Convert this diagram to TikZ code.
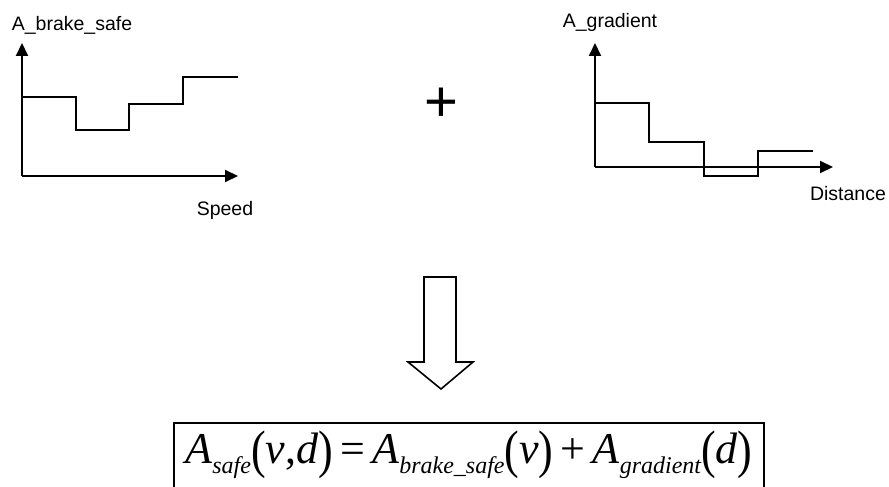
\documentclass[tikz,border=0pt]{standalone}
\usepackage{graphicx}
\usepackage{fontspec}
\setmainfont{Liberation Sans}
\newfontfamily\eqfont{Liberation Serif}
\usetikzlibrary{arrows.meta}
\tikzset{
  axisline/.style={line width=2pt,-{Triangle[length=13pt,width=12pt]}},
  stepline/.style={line width=2pt},
  axislabel/.style={anchor=base,inner sep=0pt,font=\fontsize{19.5}{22}\selectfont},
  bigarrow/.style={line width=1.6pt,line join=miter},
  formulabox/.style={draw,line width=1.6pt,anchor=north,inner sep=0pt,minimum width=590pt,
    text height=41pt,text depth=39pt,font=\eqfont\fontsize{44}{44}\selectfont}
}
\newcommand{\eqsub}[1]{\raisebox{-10pt}{\fontsize{24}{24}\selectfont\itshape #1}}
\newcommand{\eqpar}[1]{\raisebox{-4pt}{\scalebox{1}[1.2]{#1}}}

\begin{document}
\begin{tikzpicture}[x=1pt,y=-1pt]
\path[use as bounding box,clip] (0,0) rectangle (889,487);
% braking part over speed
\coordinate (o1) at (22,176);
\draw[axisline] (o1) -- (22,43);
\draw[axisline] (o1) -- (238,176);
\draw[stepline] (22,97) -| (76,130) -| (129,104) -| (183,77) -- (238,77);
\node[axislabel] (ybrake) at (72,31) {A\_brake\_safe};
\node[axislabel] (xspeed) at (225,215) {Speed};

\node[font=\fontsize{58}{58}\selectfont,inner sep=0pt] (plus) at (441,105) {+};

% gradient part over distance
\coordinate (o2) at (595,167);
\draw[axisline] (o2) -- (595,43);
\draw[axisline] (o2) -- (833,167);
\draw[stepline] (595,103) -| (649,142) -| (704,176) -| (758,151) -- (813,151);
\node[axislabel] (ygrad) at (610,28) {A\_gradient};
\node[axislabel] (xdist) at (848,200) {Distance};

% hollow arrow
\draw[bigarrow] (424,277) -- (456,277) -- (456,362) -- (473,362) -- (441,389)
  -- (408,362) -- (424,362) -- cycle;

\node[formulabox] (formula) at (469,422)
  {\itshape A\eqsub{safe}\upshape\eqpar{(}\textit{v},\textit{d}\eqpar{)}\,=\,\itshape A\eqsub{brake\_safe}\upshape\eqpar{(}\textit{v}\eqpar{)}\,+\,\itshape A\eqsub{gradient}\upshape\eqpar{(}\textit{d}\eqpar{)}};
\end{tikzpicture}
\end{document}
